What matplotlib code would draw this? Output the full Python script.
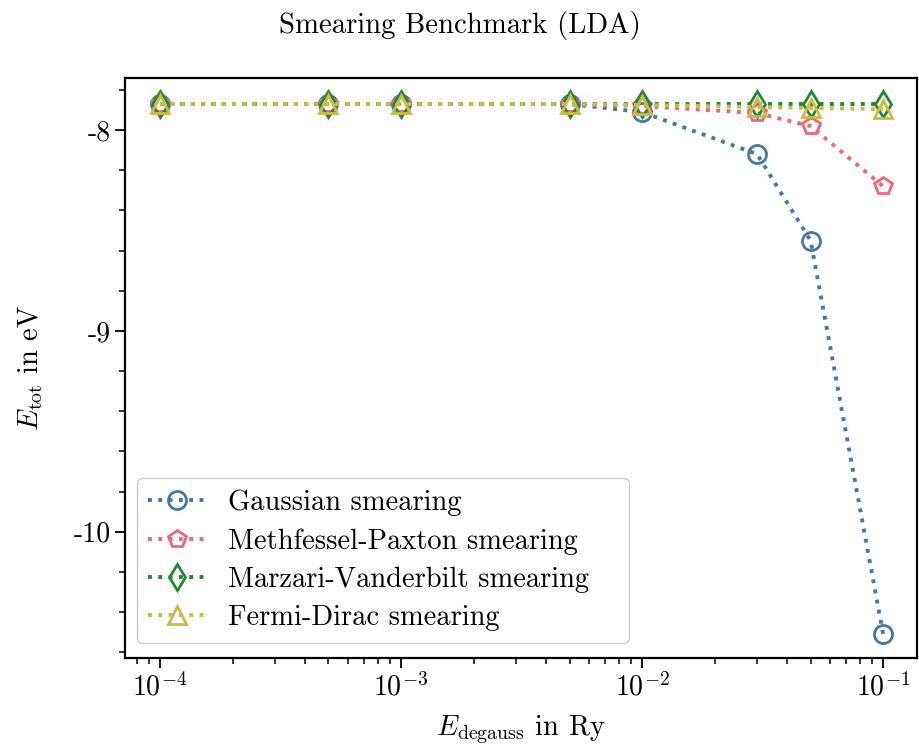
import numpy as np
import matplotlib
matplotlib.use("Agg")
import matplotlib.pyplot as plt
from matplotlib.ticker import AutoMinorLocator

plt.rcParams["font.family"] = ["cmr10", "DejaVu Serif"]
plt.rcParams["mathtext.fontset"] = "cm"
plt.rcParams["axes.unicode_minus"] = False
plt.rcParams["axes.formatter.use_mathtext"] = True
plt.rcParams["font.size"] = 20.5

degauss = [1e-4, 5e-4, 1e-3, 5e-3, 1e-2, 3e-2, 5e-2, 1e-1]
e_gauss = [-7.87, -7.87, -7.87, -7.87, -7.91, -8.12, -8.55, -10.51]
e_mp = [-7.87, -7.87, -7.87, -7.87, -7.88, -7.915, -7.98, -8.28]
e_mv = [-7.87, -7.87, -7.87, -7.87, -7.87, -7.87, -7.87, -7.87]
e_fd = [-7.87, -7.87, -7.87, -7.87, -7.875, -7.885, -7.89, -7.895]

series = [
    (e_gauss, "Gaussian smearing", "#4477AA", "o"),
    (e_mp, "Methfessel-Paxton smearing", "#EE6677", "p"),
    (e_mv, "Marzari-Vanderbilt smearing", "#228833", "d"),
    (e_fd, "Fermi-Dirac smearing", "#CCBB44", "^"),
]

fig = plt.figure(figsize=(9.19, 7.49), dpi=100)
ax = fig.add_axes([0.136, 0.121, 0.862, 0.775])

for vals, label, color, marker in series:
    ax.plot(degauss, vals, linestyle=":", linewidth=2.8, color=color,
            marker=marker, markersize=13, markerfacecolor="none",
            markeredgewidth=2.0, label=label)

ax.set_xscale("log")
ax.set_xlim(10**-4.145, 10**-0.859)
ax.set_ylim(-10.63, -7.74)
ax.set_yticks([-8, -9, -10])
ax.set_yticklabels(["-8", "-9", "-10"])
ax.yaxis.set_minor_locator(AutoMinorLocator(5))

for s in ax.spines.values():
    s.set_linewidth(1.6)
ax.tick_params(which="major", length=7, width=1.3, labelsize=20)
ax.tick_params(which="minor", length=4, width=1.1)

ax.set_xlabel(r"$E_\mathrm{degauss}$ in Ry", fontsize=20.5, labelpad=8)
ax.set_ylabel(r"$E_\mathrm{tot}$ in eV", fontsize=20.5, labelpad=20)
fig.suptitle("Smearing Benchmark (LDA)", y=0.985, fontsize=20.7)

ax.legend(loc="lower left", bbox_to_anchor=(0.015, 0.027, 0.621, 0.3),
          mode="expand", borderaxespad=0, fontsize=20.5, handlelength=2.0,
          labelspacing=0.42, frameon=True, edgecolor="#cccccc",
          framealpha=1.0)

fig.savefig("out.png", dpi=100)
